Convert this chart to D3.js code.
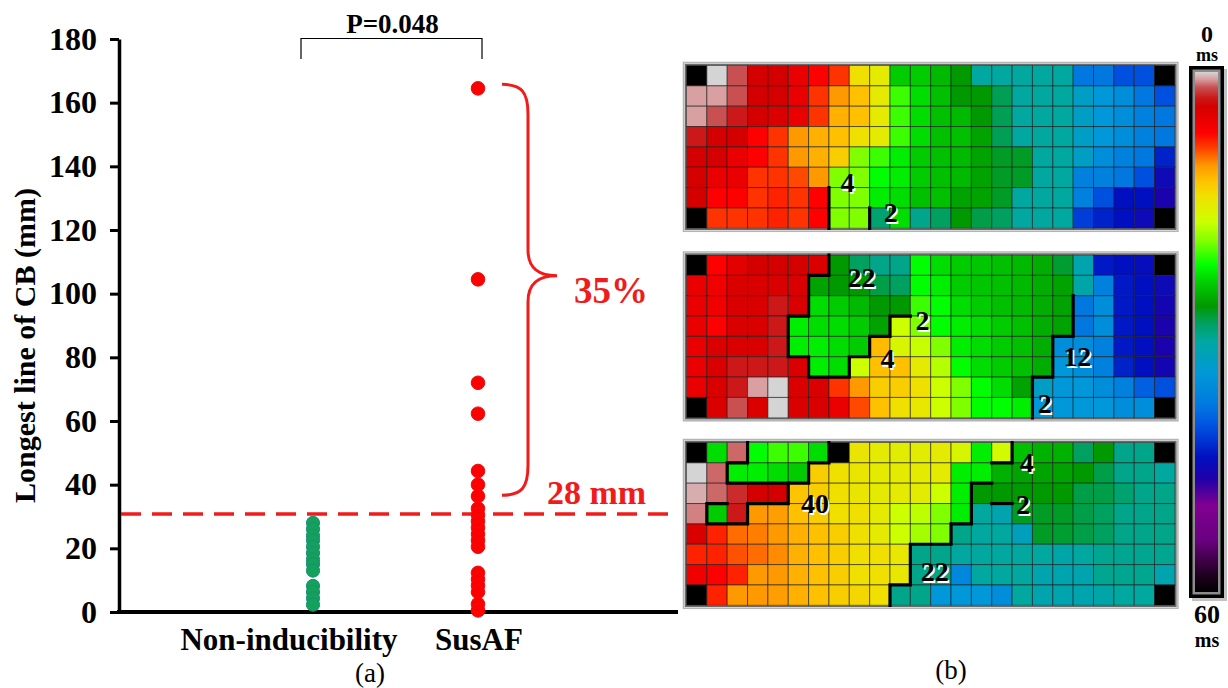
<!DOCTYPE html>
<html>
<head>
<meta charset="utf-8">
<script src="https://cdn.jsdelivr.net/npm/d3@7"></script>
<style>
  body { margin: 0; background: #fff; }
  svg { display: block; }
  text { font-family: "Liberation Serif", "Times New Roman", serif; }
</style>
</head>
<body>
<svg id="chart" width="1228" height="688"></svg>
<script>
// ---- panel (a) data ----
const groups = ['Non-inducibility', 'SusAF'];
const nonInducible = [28, 26, 24, 22.5, 20.5, 18.5, 16.5, 15, 13, 8.2, 6.3, 4.3, 2.3];
const susAF = [164.5, 104.5, 72, 62.3, 44.3, 40, 36.4, 32.5, 30.5, 28.5, 26.5, 24.5, 22.5, 20.5,
               12.3, 10.3, 8.3, 6.3, 2.5, 0.5];
const yTicks = [0, 20, 40, 60, 80, 100, 120, 140, 160, 180];
const thresholdValue = 30.8;
const thresholdLabel = '28 mm';
const braceRange = [164.5, 37]; // the curly brace spans these values
const percentLabel = '35%';
const pLabel = 'P=0.048';

// ---- panel (b) data: activation time (ms) per electrode, null = no electrode ----
const msStops = [0, 0.8, 1.8, 3, 4, 7, 8.5, 10.8, 12.5, 14.3, 17.3, 19.5, 22.3, 24.4, 27, 29, 31, 34.8, 38.5, 41, 44.5, 47, 50, 54, 58, 60];
const msColors = ['#d4d4d4', '#d8a0a0', '#c85050', '#cc1818', '#d40000', '#ff0000', '#ff3300', '#ff9900', '#ffc000',
                  '#f0e000', '#ccff00', '#80ff00', '#00ff00', '#00cc00', '#009900', '#00a060', '#00a8a0', '#0098d8',
                  '#0078e0', '#0050e0', '#0010c0', '#2000a8', '#800090', '#6a0080', '#200020', '#000000'];

const mapTop = [
  [null,0,1.8,4,4,5.5,7,8.5,14.3,15.3,24.4,24.4,25.3,27,31,31,31,31,31,38.5,38.5,41,41,null],
  [0.8,0.8,1.8,4,4,5.5,8.5,10.8,12.5,15.3,21,23.7,25,27,27,28.8,31,31,31,33.5,34.8,36,38.5,41],
  [0.8,1.8,3,4,4.5,5.5,8.5,11.8,12.5,15.3,21,23.7,25,25.3,27,28.8,31,31,31,33.5,34.8,36,37.5,38.5],
  [3,4,4,7,8.5,10.8,11.8,12.5,14.3,15.3,21,23.7,25,25,26.5,28.8,31,31,31,33.5,34.8,36,37.5,38.5],
  [4,4,5.5,7,8.5,10.8,11.8,13.3,19.5,21,23,24.4,25,25.3,26.5,27.8,27.8,31,31,33.5,36,37.5,38.5,43.5],
  [4,5.5,5.5,8.5,8.5,9,10.8,19.5,19.5,22.3,23,24.4,25,25.3,26.5,27.8,27.8,31,31,37.5,37.5,38.5,41,45.5],
  [4,7,7,8.5,8,8.5,7,19.5,19.5,23,23.7,25,25,26.5,26.5,27.8,31,31,31,37.5,41,44.5,44.5,46.5],
  [null,8.5,8.5,8.5,8,8.5,7,19.5,19.5,29.5,23.7,30.3,29,27,28.5,29,31,31,31,42,43.5,44.5,45.5,null]
];
const mapMid = [
  [null,7,5,4,4,4,4.5,27,29,30.3,30.3,22.3,23.7,24.4,24.6,25,25.3,26,28,32,44,44.5,45,null],
  [5.5,6,4.5,4.5,4.5,4.5,26.5,27,27,28.5,29,22.3,23,24.4,24.7,25,25.3,26,26.5,31.5,37.5,44,44.5,45.5],
  [5.5,6,4.5,4.5,3,4.5,23.7,24.4,25.3,27,27,21,22.3,23.7,24.4,25,25.3,26,26.5,38.5,36,44,44.5,46],
  [5.5,7,4.5,4.5,3,23,23.7,23.7,24.4,26.5,17.3,19.5,22.3,23,23.7,24.4,25,26,26.5,38.5,36,44,44.5,46.5],
  [5.5,4.5,4.5,4.5,3,23,23,23.7,24.4,12.3,16.3,17.5,19.5,23,23.7,24.4,25,26,36,36,37.5,44,44.5,46.5],
  [5.5,4.5,3,3,3,4.5,23,23.7,17.3,12.5,12.5,15.3,18,22.3,23.7,24.4,25,26,34.8,36,37.5,43.5,44.5,46],
  [5.5,4.5,3,0.8,0,4.5,4.5,8.5,10.8,13.3,13.3,14.3,17.3,19.5,22.3,23.7,26.5,33.5,34.8,34.8,36,37.5,40,41],
  [null,4.5,1.8,4.5,0,4.5,4.5,5.5,9,12.5,14.3,15,17.3,19.5,22.3,22.3,23,34.8,34.8,34.8,34.8,36,36,null]
];
const mapBottom = [
  [null,23.7,1.5,22.3,21,21,23.7,null,14.8,15.3,15.5,15.5,15.3,16.3,23,16.8,25,25.8,25.8,29,27,30.3,30.3,null],
  [0,1.5,23,23,23.7,24.4,13.3,14.3,14.8,15.3,15.3,15.3,15.3,23,23,25.8,26.5,26.5,26.5,27,28.5,30.3,30.3,31],
  [0.6,1.5,2.6,4,4,12.8,13.3,14.3,14.8,15.3,15.3,15.5,17.3,23,27,27,27,27,27,28.5,28.5,29.5,30.3,30.3],
  [1.2,24.4,3,10.8,11,12.5,13.3,14.3,14.3,15.3,17.3,17.8,19.5,23,31,32,27.8,27.8,27.8,28.5,29,30.3,30.3,30.3],
  [4.5,8,9.8,10.2,10.8,11.8,12.5,13.3,14.3,15.3,17.3,18.5,19.5,30.3,31,31,33,27.8,28,28.5,29,30.3,30.3,30.3],
  [8,8,9.2,9.8,10.5,11.8,12.5,13.3,14.3,14.3,15,30.3,30.3,31,31,31,31,31,31.5,31,30.5,30.5,30.5,30.5],
  [6,7,8,10.8,10.8,11.8,12.5,13.3,14.3,14.3,15,30.3,30.3,36.5,31,31,31,32,32,32,30.5,30.5,30.5,32],
  [null,8,10.8,10.8,11,11.8,12.5,13.3,13.8,14.3,30.3,30.3,34.8,34.8,34.8,36,31,32,32,32,31.5,31,31,null]
];

// conduction block lines as [col,row] grid vertices
const blockTop = [[[7,6],[7,8]], [[9,7],[9,8]]];
const blockMid = [
  [[7,0],[7,1],[6,1],[6,3],[5,3],[5,5],[6,5],[6,6],[8,6],[8,5],[9,5],[9,4],[10,4],[10,3],[11,3]],
  [[19,2],[19,4],[18,4],[18,6],[17,6],[17,8]]
];
const blockBottom = [
  [[7,0],[7,1],[6,1],[6,2],[2,2],[2,1],[3,1],[3,0]],
  [[5,2],[5,3],[3,3],[3,4],[1,4],[1,3],[2,3]],
  [[10,8],[10,7],[11,7],[11,5],[13,5],[13,4],[14,4],[14,2],[15,2]],
  [[15,3],[16,3]],
  [[15,1],[16,1],[16,0]]
];
// block line lengths (mm), placed at grid positions
const lengthsTop = [{t: '4', c: 7.91, r: 5.77}, {t: '2', c: 10.04, r: 7.22}];
const lengthsMid = [{t: '22', c: 8.6, r: 1.13}, {t: '2', c: 11.6, r: 3.2}, {t: '4', c: 9.88, r: 5.1},
                    {t: '12', c: 19.2, r: 5.0}, {t: '2', c: 17.6, r: 7.3}];
const lengthsBottom = [{t: '40', c: 6.31, r: 3.02}, {t: '22', c: 12.2, r: 6.35}, {t: '4', c: 16.72, r: 1.0},
                       {t: '2', c: 16.54, r: 3.05}];

const svg = d3.select('#chart');
svg.append('rect').attr('width', 1228).attr('height', 688).attr('fill', '#fff');

// ================= panel (a) =================
const y = d3.scaleLinear().domain([0, 180]).range([612, 39]);
const x = d3.scalePoint().domain(groups).range([313, 478]);
const axisX = 119;

const yAxis = d3.axisLeft(y).tickValues(yTicks).tickSize(9).tickSizeOuter(0).tickPadding(13);
const gy = svg.append('g').attr('transform', `translate(${axisX},0)`).call(yAxis);
gy.select('.domain').attr('stroke', '#000').attr('stroke-width', 3.5);
gy.selectAll('.tick line').attr('stroke', '#000').attr('stroke-width', 3);
gy.selectAll('.tick text')
  .attr('font-family', '"Liberation Serif", serif')
  .attr('font-size', 32).attr('font-weight', 'bold').attr('fill', '#000');

// baseline
svg.append('line')
  .attr('x1', axisX - 2).attr('x2', 678)
  .attr('y1', y(0)).attr('y2', y(0))
  .attr('stroke', '#000').attr('stroke-width', 4);

svg.append('text')
  .attr('transform', `translate(35,${(y(0) + y(180)) / 2 + 20}) rotate(-90)`)
  .attr('text-anchor', 'middle')
  .attr('font-size', 30).attr('font-weight', 'bold')
  .text('Longest line of CB (mm)');

const labelShift = [-24, 1];
svg.selectAll('.xlab').data(groups).enter().append('text')
  .attr('class', 'xlab')
  .attr('x', (d, i) => x(d) + labelShift[i])
  .attr('y', 650)
  .attr('text-anchor', 'middle')
  .attr('font-size', 31).attr('font-weight', 'bold')
  .text(d => d);

// threshold
svg.append('line')
  .attr('x1', axisX + 2).attr('x2', 670)
  .attr('y1', y(thresholdValue)).attr('y2', y(thresholdValue))
  .attr('stroke', '#f01c1c').attr('stroke-width', 3.5)
  .attr('stroke-dasharray', '20,11');

// dots
svg.selectAll('.g-dot').data(nonInducible).enter().append('circle')
  .attr('class', 'g-dot')
  .attr('cx', x(groups[0])).attr('cy', d => y(d)).attr('r', 6.6)
  .attr('fill', '#12a25a').attr('stroke', '#1d8c7a').attr('stroke-width', 1);
svg.selectAll('.r-dot').data(susAF).enter().append('circle')
  .attr('class', 'r-dot')
  .attr('cx', x(groups[1])).attr('cy', d => y(d)).attr('r', 6.8)
  .attr('fill', '#ff0000').attr('stroke', '#e81010').attr('stroke-width', 1);

// p-value bracket
const bx0 = x(groups[0]) - 12, bx1 = x(groups[1]) + 4;
svg.append('path')
  .attr('d', `M${bx0},59V38.5H${bx1}V59`)
  .attr('fill', 'none').attr('stroke', '#000').attr('stroke-width', 1.2);
svg.append('text')
  .attr('x', (bx0 + bx1) / 2 + 1).attr('y', 33)
  .attr('text-anchor', 'middle')
  .attr('font-size', 27).attr('font-weight', 'bold')
  .text(pLabel);

// curly brace
const bTop = y(braceRange[0]) - 4, bBot = y(braceRange[1]) + 1;
const bMid = (bTop + bBot) / 2 - 14;
const bl = 502, bv = 528, bt = 557;
svg.append('path')
  .attr('d', `M${bl},${bTop} C${bl + 20},${bTop} ${bv},${bTop + 8} ${bv},${bTop + 30}
              L${bv},${bMid - 26} C${bv},${bMid - 6} ${bv + 12},${bMid} ${bt},${bMid}
              C${bv + 12},${bMid} ${bv},${bMid + 6} ${bv},${bMid + 26}
              L${bv},${bBot - 30} C${bv},${bBot - 8} ${bl + 20},${bBot} ${bl},${bBot}`)
  .attr('fill', 'none').attr('stroke', '#f01c1c').attr('stroke-width', 3);

svg.append('text')
  .attr('x', 574).attr('y', 303)
  .attr('font-size', 37).attr('font-weight', 'bold').attr('fill', '#f01c1c')
  .text(percentLabel);
svg.append('text')
  .attr('x', 547).attr('y', 504)
  .attr('font-size', 34).attr('font-weight', 'bold').attr('fill', '#f01c1c')
  .text(thresholdLabel);

svg.append('text')
  .attr('x', 370).attr('y', 682)
  .attr('text-anchor', 'middle')
  .attr('font-size', 27)
  .text('(a)');

// ================= panel (b) =================
const color = d3.scaleLinear().domain(msStops).range(msColors).clamp(true);

const gridLeft = 686.5, cellSize = 20.35;
const maps = [
  {cells: mapTop, top: 65.5, blocks: blockTop, lens: lengthsTop},
  {cells: mapMid, top: 255, blocks: blockMid, lens: lengthsMid},
  {cells: mapBottom, top: 442.5, blocks: blockBottom, lens: lengthsBottom}
];

maps.forEach(m => {
  const nCols = m.cells[0].length, nRows = m.cells.length;
  const cx = d3.scaleLinear().domain([0, nCols]).range([gridLeft, gridLeft + nCols * cellSize]);
  const cy = d3.scaleLinear().domain([0, nRows]).range([m.top, m.top + nRows * cellSize]);
  const g = svg.append('g');

  // frame
  g.append('rect')
    .attr('x', cx(0) - 3).attr('y', cy(0) - 3)
    .attr('width', cx(nCols) - cx(0) + 6).attr('height', cy(nRows) - cy(0) + 6)
    .attr('fill', '#fff').attr('stroke', '#b4b4b4').attr('stroke-width', 1.5);
  g.append('rect')
    .attr('x', cx(0) - 1).attr('y', cy(0) - 1)
    .attr('width', cx(nCols) - cx(0) + 2).attr('height', cy(nRows) - cy(0) + 2)
    .attr('fill', 'none').attr('stroke', '#6a6a6a').attr('stroke-width', 1.5);

  const flat = [];
  m.cells.forEach((row, r) => row.forEach((v, c) => flat.push({r, c, v})));
  g.selectAll('.cell').data(flat).enter().append('rect')
    .attr('class', 'cell')
    .attr('x', d => cx(d.c)).attr('y', d => cy(d.r))
    .attr('width', cellSize).attr('height', cellSize)
    .attr('fill', d => d.v === null ? '#000' : color(d.v))
    .attr('stroke', 'rgba(25,25,25,0.6)').attr('stroke-width', 1);

  const line = d3.line().x(p => cx(p[0])).y(p => cy(p[1]));
  g.selectAll('.block').data(m.blocks).enter().append('path')
    .attr('class', 'block')
    .attr('d', line)
    .attr('fill', 'none').attr('stroke', '#000').attr('stroke-width', 3.2)
    .attr('stroke-linecap', 'square');

  m.lens.forEach(l => {
    g.append('text')
      .attr('x', cx(l.c) + 1.5).attr('y', cy(l.r) + 2)
      .attr('text-anchor', 'middle').attr('dominant-baseline', 'central')
      .attr('font-size', 28).attr('font-weight', 'bold').attr('fill', '#fff')
      .text(l.t);
    g.append('text')
      .attr('x', cx(l.c)).attr('y', cy(l.r))
      .attr('text-anchor', 'middle').attr('dominant-baseline', 'central')
      .attr('font-size', 28).attr('font-weight', 'bold').attr('fill', '#000')
      .text(l.t);
  });
});

// colour bar
const barY = d3.scaleLinear().domain([0, 60]).range([72, 592]);
const grad = svg.append('defs').append('linearGradient')
  .attr('id', 'msGrad').attr('x1', 0).attr('y1', 0).attr('x2', 0).attr('y2', 1);
grad.selectAll('stop').data(msStops).enter().append('stop')
  .attr('offset', d => d / 60)
  .attr('stop-color', d => color(d));

svg.append('rect').attr('x', 1192).attr('y', 69).attr('width', 35).attr('height', 532)
  .attr('fill', '#9a9a9a').attr('opacity', 0.6);
svg.append('rect').attr('x', 1189).attr('y', 66).attr('width', 35).attr('height', 532)
  .attr('fill', '#000');
svg.append('rect').attr('x', 1192.5).attr('y', 69.5).attr('width', 28).attr('height', 525)
  .attr('fill', '#8c8c8c');
svg.append('rect').attr('x', 1195).attr('y', barY(0)).attr('width', 23).attr('height', barY(60) - barY(0))
  .attr('fill', 'url(#msGrad)');

svg.append('text').attr('x', 1207).attr('y', 42).attr('text-anchor', 'middle')
  .attr('font-size', 24).attr('font-weight', 'bold').text('0');
svg.append('text').attr('x', 1207).attr('y', 61).attr('text-anchor', 'middle')
  .attr('font-size', 18).attr('font-weight', 'bold').text('ms');
svg.append('text').attr('x', 1207).attr('y', 623).attr('text-anchor', 'middle')
  .attr('font-size', 26).attr('font-weight', 'bold').text('60');
svg.append('text').attr('x', 1207).attr('y', 647).attr('text-anchor', 'middle')
  .attr('font-size', 20).attr('font-weight', 'bold').text('ms');

svg.append('text')
  .attr('x', 951).attr('y', 679)
  .attr('text-anchor', 'middle')
  .attr('font-size', 27)
  .text('(b)');
</script>
</body>
</html>
